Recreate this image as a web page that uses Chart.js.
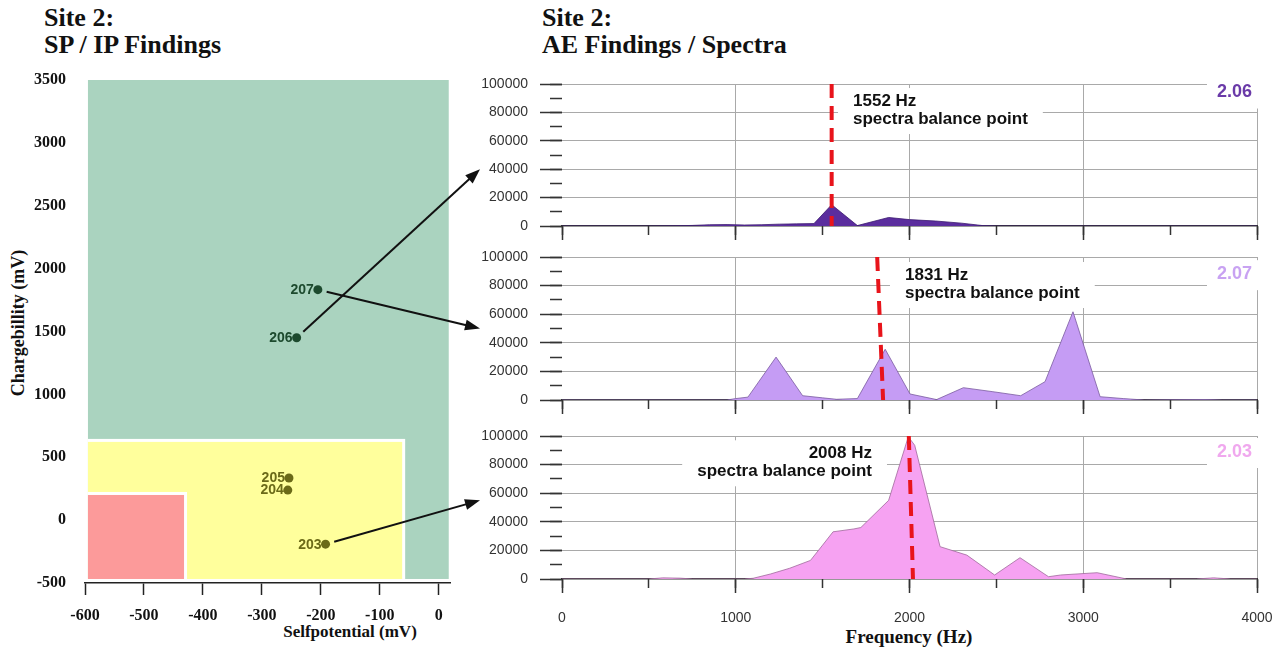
<!DOCTYPE html>
<html>
<head>
<meta charset="utf-8">
<title>Site 2: SP / IP and AE findings</title>
<script src="https://cdn.jsdelivr.net/npm/chart.js@4.4.1/dist/chart.umd.min.js"></script>
<style>
  html, body { margin: 0; padding: 0; background: #fff; }
  body { width: 1286px; height: 651px; position: relative; overflow: hidden; }
  canvas { position: absolute; }
  #spip { z-index: 3; }
  .hd { position: absolute; font: bold 26px 'Liberation Serif', serif; line-height: 27px; color: #111; white-space: nowrap; }
  .ax { position: absolute; font: bold 17px 'Liberation Serif', serif; color: #111; white-space: nowrap; transform: translate(-50%, -50%); }
</style>
</head>
<body>
<div class="hd" style="left:44px;top:4px;">Site 2:<br>SP / IP Findings</div>
<div class="hd" style="left:542px;top:4px;">Site 2:<br>AE Findings / Spectra</div>
<div class="ax" style="left:18px;top:323px;transform:translate(-50%,-50%) rotate(-90deg);font-size:18px;">Chargebillity (mV)</div>
<div class="ax" style="left:350px;top:632px;">Selfpotential (mV)</div>
<div class="ax" style="left:909px;top:637px;font-size:19px;">Frequency (Hz)</div>

<canvas id="ae1" width="816" height="175" style="left:470px;top:70px;"></canvas>
<canvas id="ae2" width="816" height="175" style="left:470px;top:245px;"></canvas>
<canvas id="ae3" width="816" height="231" style="left:470px;top:420px;"></canvas>
<canvas id="spip" width="490" height="591" style="left:0px;top:60px;"></canvas>

<script>
// ---- SP / IP survey points ----
const spPointIds   = ['203', '204', '205', '206', '207'];
const spValues     = [-192, -256, -254, -241, -205];     // self-potential, mV
const ipValues     = [-191, 239, 335, 1450, 1833];       // chargeability, mV
const spPointColor = ['#6b6a18', '#6b6a18', '#6b6a18', '#1d4a2e', '#1d4a2e'];

// interpretation zones (mV)
const zoneSpFrom = [-595, -595, -595];
const zoneSpTo   = [17, -62, -432];
const zoneIpFrom = [-468, -468, -468];
const zoneIpTo   = [3500, 622, 200];
const zoneColors = ['#aad3bf', '#ffff9c', '#fc9a9a'];

const spTicks = [-600, -500, -400, -300, -200, -100, 0];
const ipTicks = [-500, 0, 500, 1000, 1500, 2000, 2500, 3000, 3500];

// ---- AE spectra ----
const freqTicks = [0, 1000, 2000, 3000, 4000];
const ampTicks  = [0, 20000, 40000, 60000, 80000, 100000];

const spectrum1Freq = [0, 500, 650, 750, 850, 950, 1050, 1150, 1250, 1350, 1450, 1552, 1700, 1880, 2000, 2150, 2300, 2420, 2500, 4000];
const spectrum1Amp  = [0, 0, 100, 400, 900, 1000, 700, 900, 1300, 1500, 1700, 15000, 300, 6000, 4500, 3500, 2000, 300, 0, 0];

const spectrum2Freq = [0, 950, 1000, 1070, 1232, 1385, 1500, 1580, 1700, 1860, 2003, 2156, 2310, 2480, 2640, 2780, 2941, 3097, 3230, 3350, 3700, 3800, 4000];
const spectrum2Amp  = [0, 0, 1000, 2000, 30000, 3000, 1500, 500, 1000, 35500, 4200, 300, 8600, 5800, 3000, 12800, 61700, 2300, 1000, 0, 300, 0, 0];

const spectrum3Freq = [0, 500, 580, 680, 750, 1050, 1100, 1200, 1310, 1430, 1500, 1560, 1680, 1720, 1880, 1993, 2030, 2176, 2330, 2490, 2636, 2800, 2870, 3080, 3250, 3650, 3750, 3850, 4000];
const spectrum3Amp  = [0, 0, 800, 600, 0, 0, 500, 3500, 7500, 13000, 23700, 33000, 35000, 36000, 55000, 99500, 93500, 22600, 16700, 2800, 14900, 1600, 2800, 4400, 0, 0, 800, 0, 0];

const balanceHz     = [1552, 1831, 2008];
const balanceSlant  = [0, 34, 24];          // Hz drift of the marker from top to bottom
const ratioLabels   = ['2.06', '2.07', '2.03'];

// arrows linking survey points to their spectra
const arrowFrom  = ['206', '207', '203'];
const arrowPanel = [0, 1, 2];
const arrowAmp   = [40000, 50000, 55000];

const SANS = "'Liberation Sans', Arial, sans-serif";
const SERIF = "'Liberation Serif', 'Times New Roman', serif";

const panelStyles = [
  { fill: '#5b2d9e', edge: '#3b1a70', label: '#6a3aa8', padTop: 14, xHeight: 19, ticks: false,
    note: { x: 1675, y: 88000, align: 'left' }, ratioY: 94000 },
  { fill: '#c59cf4', edge: '#7a5aa0', label: '#c8a2f2', padTop: 12, xHeight: 20, ticks: false,
    note: { x: 1974, y: 87400, align: 'left' }, ratioY: 88000 },
  { fill: '#f6a2f2', edge: '#a06a9c', label: '#f0a8ee', padTop: 16, xHeight: 72, ticks: true,
    note: { x: 1784, y: 87900, align: 'right' }, ratioY: 88800 }
];
const spectraFreq = [spectrum1Freq, spectrum2Freq, spectrum3Freq];
const spectraAmp  = [spectrum1Amp, spectrum2Amp, spectrum3Amp];

// axes keep exactly the size given, without extra room for overhanging labels
function fixSize(sc, w, h) {
  if (w !== null) sc.width = w;
  if (h !== null) sc.height = h;
  sc.paddingTop = 0; sc.paddingBottom = 0; sc.paddingLeft = 0; sc.paddingRight = 0;
}

// white label boxes and texts on each spectrum
function panelAnnotations(idx) {
  const st = panelStyles[idx];
  const noteLines = [balanceHz[idx] + ' Hz', 'spectra balance point'];
  const noteFont = 'bold 17px ' + SANS;
  const ratioFont = 'bold 18px ' + SANS;
  function geometry(chart) {
    const { ctx, scales: { x, y }, chartArea } = chart;
    ctx.save();
    ctx.font = noteFont;
    const w = Math.max(...noteLines.map(t => ctx.measureText(t).width));
    ctx.font = ratioFont;
    const rw = ctx.measureText(ratioLabels[idx]).width;
    ctx.restore();
    const ax = x.getPixelForValue(st.note.x);
    const ay = y.getPixelForValue(st.note.y);
    const left = st.note.align === 'left' ? ax : ax - w;
    const rRight = chartArea.right - 5;
    const rY = y.getPixelForValue(st.ratioY);
    return { w, left, ay, rw, rRight, rY };
  }
  return {
    id: 'notes' + idx,
    beforeDatasetsDraw(chart) {
      const g = geometry(chart);
      const ctx = chart.ctx;
      ctx.save();
      ctx.fillStyle = '#fff';
      ctx.fillRect(g.left - 15, g.ay - 13, g.w + 30, 18 + 28);
      ctx.fillRect(g.rRight - g.rw - 10, g.rY - 14, g.rw + 20, 30);
      ctx.restore();
    },
    afterDatasetsDraw(chart) {
      const g = geometry(chart);
      const ctx = chart.ctx;
      ctx.save();
      ctx.fillStyle = '#111';
      ctx.font = noteFont;
      ctx.textBaseline = 'middle';
      ctx.textAlign = st.note.align;
      const tx = st.note.align === 'left' ? g.left : g.left + g.w;
      noteLines.forEach((t, i) => ctx.fillText(t, tx, g.ay + i * 18));
      ctx.font = ratioFont;
      ctx.textAlign = 'right';
      ctx.fillStyle = st.label;
      ctx.fillText(ratioLabels[idx], g.rRight, g.rY);
      ctx.restore();
    }
  };
}

function makePanel(idx, canvasId) {
  const st = panelStyles[idx];
  const b = balanceHz[idx], s = balanceSlant[idx];
  return new Chart(document.getElementById(canvasId), {
    type: 'line',
    data: {
      datasets: [
        {
          label: 'balance point',
          data: [{ x: b - s / 2, y: 100000 }, { x: b + s / 2, y: 0 }],
          borderColor: '#e8141b', borderWidth: 4, borderDash: [14, 8],
          pointRadius: 0, fill: false, order: 0
        },
        {
          label: 'spectrum',
          data: spectraFreq[idx].map((f, i) => ({ x: f, y: spectraAmp[idx][i] })),
          borderColor: st.edge, borderWidth: 0.8, backgroundColor: st.fill,
          pointRadius: 0, fill: 'origin', tension: 0, order: 1
        }
      ]
    },
    options: {
      responsive: false, animation: false, devicePixelRatio: 1,
      layout: { padding: { top: st.padTop, right: 29, bottom: 0, left: 0 } },
      plugins: { legend: { display: false }, tooltip: { enabled: false } },
      scales: {
        x: {
          type: 'linear', min: 0, max: 4000, position: 'bottom', weight: 1,
          afterBuildTicks(sc) { sc.ticks = freqTicks.map(v => ({ value: v })); },
          ticks: { display: st.ticks, padding: 17, color: '#333', font: { family: SANS, size: 14 },
                   callback: v => String(v), maxRotation: 0 },
          grid: { color: c => (c.tick && c.tick.value === 0) ? 'rgba(0,0,0,0)' : '#a9a9a9',
                  lineWidth: 1, tickLength: 14, tickColor: '#333', tickWidth: 1.5 },
          border: { display: true, color: '#333', width: 1.5 },
          afterFit(sc) { fixSize(sc, null, st.xHeight); }
        },
        xMinor: {
          type: 'linear', min: 0, max: 4000, position: 'bottom', weight: 0,
          ticks: { display: false, stepSize: 500 },
          grid: { drawOnChartArea: false, tickLength: 9, tickColor: '#333', tickWidth: 1.5 },
          border: { display: false },
          afterFit(sc) { fixSize(sc, null, 0); }
        },
        y: {
          type: 'linear', min: 0, max: 100000, position: 'left', weight: 1,
          afterBuildTicks(sc) { sc.ticks = ampTicks.map(v => ({ value: v })); },
          ticks: { padding: 12, color: '#333', font: { family: SANS, size: 14 }, callback: v => String(v) },
          grid: { color: c => (c.tick && c.tick.value === 0) ? 'rgba(0,0,0,0)' : '#a9a9a9',
                  lineWidth: 1, tickLength: 22, tickColor: '#333', tickWidth: 1.5 },
          border: { display: false },
          afterFit(sc) { fixSize(sc, 92, null); }
        },
        yMinor: {
          type: 'linear', min: 0, max: 100000, position: 'left', weight: 0,
          ticks: { display: false, stepSize: 10000 },
          grid: { drawOnChartArea: false, tickLength: 12, tickColor: '#333', tickWidth: 1.5 },
          border: { display: false },
          afterFit(sc) { fixSize(sc, 0, null); }
        }
      }
    },
    plugins: [panelAnnotations(idx)]
  });
}

const panels = [makePanel(0, 'ae1'), makePanel(1, 'ae2'), makePanel(2, 'ae3')];

// zone rectangles behind the survey points
const zonePlugin = {
  id: 'zones',
  beforeDatasetsDraw(chart) {
    const { ctx, scales: { x, y } } = chart;
    ctx.save();
    zoneColors.forEach((col, i) => {
      const x0 = x.getPixelForValue(zoneSpFrom[i]), x1 = x.getPixelForValue(zoneSpTo[i]);
      const y0 = y.getPixelForValue(zoneIpTo[i]), y1 = y.getPixelForValue(zoneIpFrom[i]);
      if (i > 0) {
        ctx.fillStyle = '#fff';
        ctx.fillRect(x0, y0 - 3, x1 - x0 + 3, y1 - y0 + 3);
      }
      ctx.fillStyle = col;
      ctx.fillRect(x0, y0, x1 - x0, y1 - y0);
    });
    ctx.restore();
  }
};

// point ids written to the left of each marker
const pointLabelPlugin = {
  id: 'pointLabels',
  afterDatasetsDraw(chart) {
    const { ctx } = chart;
    const meta = chart.getDatasetMeta(0);
    ctx.save();
    ctx.font = 'bold 14px ' + SANS;
    ctx.textAlign = 'right';
    ctx.textBaseline = 'middle';
    meta.data.forEach((el, i) => {
      ctx.fillStyle = spPointColor[i];
      ctx.fillText(spPointIds[i], el.x - 4, el.y + 0.5);
    });
    ctx.restore();
  }
};

// arrows from survey points to the matching spectrum
const arrowPlugin = {
  id: 'arrows',
  afterDraw(chart) {
    const { ctx } = chart;
    const meta = chart.getDatasetMeta(0);
    const lc = chart.canvas;
    ctx.save();
    arrowFrom.forEach((id, k) => {
      const p = meta.data[spPointIds.indexOf(id)];
      const pc = panels[arrowPanel[k]];
      const tx = pc.canvas.offsetLeft + pc.chartArea.left - 82 - lc.offsetLeft;
      const ty = pc.canvas.offsetTop + pc.scales.y.getPixelForValue(arrowAmp[k]) - lc.offsetTop;
      const dx = tx - p.x, dy = ty - p.y, len = Math.hypot(dx, dy);
      const ux = dx / len, uy = dy / len;
      const sx = p.x + ux * 9, sy = p.y + uy * 9;
      const hl = 15, hw = 5.5;
      const bx = tx - ux * hl, by = ty - uy * hl;
      ctx.strokeStyle = '#111';
      ctx.lineWidth = 2;
      ctx.beginPath(); ctx.moveTo(sx, sy); ctx.lineTo(bx + ux * 2, by + uy * 2); ctx.stroke();
      ctx.fillStyle = '#111';
      ctx.beginPath();
      ctx.moveTo(tx, ty);
      ctx.lineTo(bx - uy * hw, by + ux * hw);
      ctx.lineTo(bx + uy * hw, by - ux * hw);
      ctx.closePath();
      ctx.fill();
    });
    ctx.restore();
  }
};

new Chart(document.getElementById('spip'), {
  type: 'scatter',
  data: {
    datasets: [{
      label: 'survey points',
      data: spValues.map((v, i) => ({ x: v, y: ipValues[i] })),
      pointRadius: 4.5,
      pointBackgroundColor: spPointColor,
      pointBorderColor: spPointColor,
      pointBorderWidth: 0
    }]
  },
  options: {
    responsive: false, animation: false, devicePixelRatio: 1,
    layout: { padding: { top: 20, right: 39.5, bottom: 0, left: 0 } },
    plugins: { legend: { display: false }, tooltip: { enabled: false } },
    scales: {
      x: {
        type: 'linear', min: -600, max: 20,
        afterBuildTicks(sc) { sc.ticks = spTicks.map(v => ({ value: v })); },
        ticks: { padding: 11, color: '#111', font: { family: SERIF, size: 16, weight: 'bold' },
                 callback: v => String(v), maxRotation: 0 },
        grid: { drawOnChartArea: false, tickLength: 12, tickColor: '#222', tickWidth: 1.5 },
        border: { display: true, color: '#222', width: 1.5 },
        afterFit(sc) { fixSize(sc, null, 68); }
      },
      y: {
        type: 'linear', min: -500, max: 3500,
        afterBuildTicks(sc) { sc.ticks = ipTicks.map(v => ({ value: v })); },
        ticks: { padding: 19, color: '#111', font: { family: SERIF, size: 16, weight: 'bold' },
                 callback: v => String(v) },
        grid: { display: false, drawTicks: false },
        border: { display: false },
        afterFit(sc) { fixSize(sc, 85, null); }
      }
    }
  },
  plugins: [zonePlugin, pointLabelPlugin, arrowPlugin]
});
</script>
</body>
</html>
